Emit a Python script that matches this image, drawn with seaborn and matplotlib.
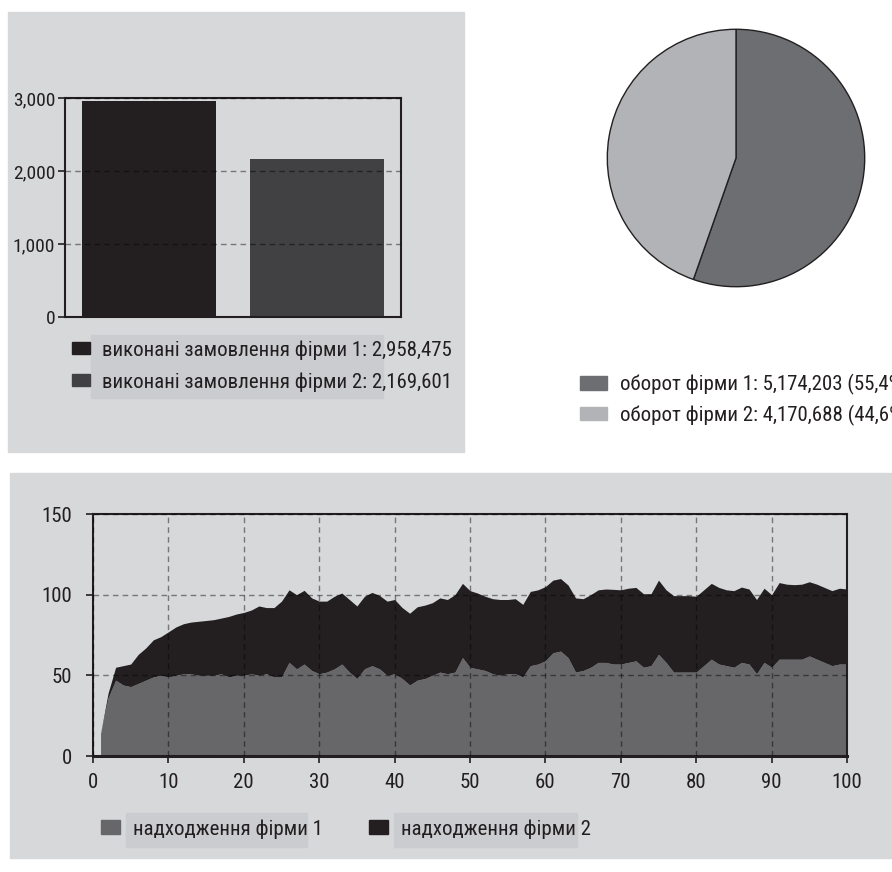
import matplotlib
matplotlib.use("Agg")
import matplotlib.pyplot as plt
from matplotlib import font_manager
from matplotlib.patches import Rectangle, Patch
import seaborn as sns

# ---- data ----
bar_labels = ["виконані замовлення фірми 1: 2,958,475",
              "виконані замовлення фірми 2: 2,169,601"]
bar_values = [2958.475, 2169.601]

pie_labels = ["оборот фірми 1: 5,174,203 (55,4%)",
              "оборот фірми 2: 4,170,688 (44,6%)"]
pie_values = [5174.203, 4170.688]

area_labels = ["надходження фірми 1", "надходження фірми 2"]
days = list(range(1, 101))
firm1 = [14, 36, 47, 44, 43, 45, 47, 49, 50, 49,
         50, 51, 51, 50, 50, 50, 51, 49, 50, 50,
         51, 50, 51, 49, 49, 58, 54, 57, 53, 51,
         52, 54, 57, 52, 48, 54, 56, 54, 50, 51,
         48, 44, 47, 48, 50, 52, 51, 52, 61, 55,
         54, 53, 51, 50, 51, 51, 49, 56, 57, 59,
         64, 65, 61, 52, 53, 55, 58, 58, 57, 57,
         58, 59, 55, 56, 63, 58, 52, 52, 52, 52,
         56, 60, 57, 56, 55, 58, 57, 51, 58, 55,
         60, 60, 60, 60, 62, 60, 58, 56, 57, 57]
firm2 = [0, 3, 8, 12, 14, 18, 20, 23, 24, 28,
         30, 31, 32, 33.5, 34, 34.5, 34.5, 37.5, 38, 39,
         39.5, 43, 41, 43, 47, 45, 46, 45.7, 45, 45,
         44, 45, 44, 45, 45, 45, 45.4, 45.5, 46, 46,
         44, 44.5, 45.5, 45.5, 45, 46, 46, 48, 46, 47.5,
         47, 46, 46.5, 47, 46, 46.5, 45, 46, 46, 46,
         45, 45, 45, 46, 44.5, 45, 45, 45.5, 46.3, 46,
         46, 45.5, 45.6, 44.6, 46, 45, 47.4, 47.4, 47.4, 47,
         47, 47, 47.5, 47, 47.5, 46.7, 46.5, 46, 46, 45,
         47.5, 46.5, 46.2, 46.5, 46, 46.5, 46.5, 46.5, 47, 46.5]

# ---- style ----
sns.set_style("ticks")

# narrow font if there is one, otherwise Liberation Sans a bit smaller
names = {f.name for f in font_manager.fontManager.ttflist}
fam = "Liberation Sans"
fs_leg, fs_tick1, fs_tick3 = 13, 12.5, 13.5
for cand in ["Liberation Sans Narrow", "Roboto Condensed", "Open Sans Condensed", "Noto Sans Condensed"]:
    if cand in names:
        fam = cand
        fs_leg, fs_tick1, fs_tick3 = 15, 14, 15
        break
plt.rcParams["font.family"] = [fam, "DejaVu Sans"]
plt.rcParams["text.color"] = "#231f20"
plt.rcParams["xtick.color"] = "#231f20"
plt.rcParams["ytick.color"] = "#231f20"

panel = "#d7d8da"
box = "#cbcccf"
dark = "#231f20"
c_bar2 = "#414042"
c_pie1 = "#6d6e71"
c_pie2 = "#b1b3b6"
c_area1 = "#676769"

W, H = 892, 872
fig = plt.figure(figsize=(W / 100, H / 100), dpi=100)
fig.patch.set_facecolor("white")


def px_rect(x0, y0, x1, y1, color):
    fig.patches.append(Rectangle((x0 / W, 1 - y1 / H), (x1 - x0) / W, (y1 - y0) / H,
                                 transform=fig.transFigure, color=color, zorder=-5))


def px_axes(x0, y0, x1, y1):
    return fig.add_axes([x0 / W, 1 - y1 / H, (x1 - x0) / W, (y1 - y0) / H])


# background panels
px_rect(8, 12, 464, 452, panel)
px_rect(10, 473, 892, 858, panel)
px_rect(91, 335, 383, 398, box)
px_rect(126, 813, 307, 847, box)
px_rect(394, 813, 577, 847, box)

# ---- bar chart ----
ax1 = px_axes(65, 98, 401, 317)
ax1.set_facecolor(panel)
sns.barplot(x=bar_labels, y=bar_values, hue=bar_labels, palette=[dark, c_bar2],
            saturation=1, width=0.8, legend=False, linewidth=0, edgecolor="none", ax=ax1)
ax1.set_ylim(0, 3000)
ax1.set_xlim(-0.5, 1.5)
ax1.set_yticks([0, 1000, 2000, 3000])
ax1.set_yticklabels(["0", "1,000", "2,000", "3,000"])
ax1.set_xticks([])
ax1.set_xlabel("")
ax1.set_ylabel("")
ax1.tick_params(axis="y", length=5, width=1.2, pad=2, labelsize=fs_tick1)
ax1.yaxis.grid(True, color="black", alpha=0.45, linestyle=(0, (4, 3)), linewidth=1)
ax1.set_axisbelow(False)
for s in ax1.spines.values():
    s.set_visible(True)
    s.set_color(dark)
    s.set_linewidth(1.5)
ax1.legend(handles=[Patch(color=dark), Patch(color=c_bar2)], labels=bar_labels,
           loc="upper left", bbox_to_anchor=(72 / W, 1 - 340 / H),
           bbox_transform=fig.transFigure, frameon=False, fontsize=fs_leg,
           handlelength=0.85, handleheight=0.55, handletextpad=0.6,
           labelspacing=0.6, borderpad=0, borderaxespad=0)

# ---- pie ----
ax2 = px_axes(606, 28, 866, 288)
ax2.pie(pie_values, colors=[c_pie1, c_pie2], startangle=90, counterclock=False,
        wedgeprops=dict(edgecolor=dark, linewidth=1))
ax2.set_xlim(-1.01, 1.01)
ax2.set_ylim(-1.01, 1.01)
ax2.legend(handles=[Patch(color=c_pie1), Patch(color=c_pie2)], labels=pie_labels,
           loc="upper left", bbox_to_anchor=(580 / W, 1 - 374 / H),
           bbox_transform=fig.transFigure, frameon=False, fontsize=fs_leg,
           handlelength=1.3, handleheight=0.6, handletextpad=0.6,
           labelspacing=0.45, borderpad=0, borderaxespad=0)

# ---- stacked area ----
ax3 = px_axes(93, 514, 847, 756)
ax3.set_facecolor(panel)
ax3.stackplot(days, firm1, firm2, colors=[c_area1, dark], linewidth=0)
ax3.set_xlim(0, 100)
ax3.set_ylim(0, 150)
ax3.set_xticks(range(0, 101, 10))
ax3.set_yticks([0, 50, 100, 150])
ax3.tick_params(axis="both", length=5, width=1.2, labelsize=fs_tick3)
ax3.tick_params(axis="y", pad=10)
ax3.tick_params(axis="x", pad=7)
ax3.grid(True, color="black", alpha=0.45, linestyle=(0, (4, 3)), linewidth=1)
ax3.set_axisbelow(False)
for name, s in ax3.spines.items():
    s.set_visible(True)
    s.set_color(dark)
    s.set_linewidth(1.5)
ax3.spines["bottom"].set_linewidth(2.2)
ax3.legend(handles=[Patch(color=c_area1), Patch(color=dark)], labels=area_labels,
           loc="upper left", bbox_to_anchor=(101 / W, 1 - 819 / H),
           bbox_transform=fig.transFigure, frameon=False, fontsize=fs_leg, ncol=2,
           handlelength=0.9, handleheight=0.67, handletextpad=0.65,
           columnspacing=2.2, borderpad=0, borderaxespad=0)

fig.savefig("out.png", dpi=100)
